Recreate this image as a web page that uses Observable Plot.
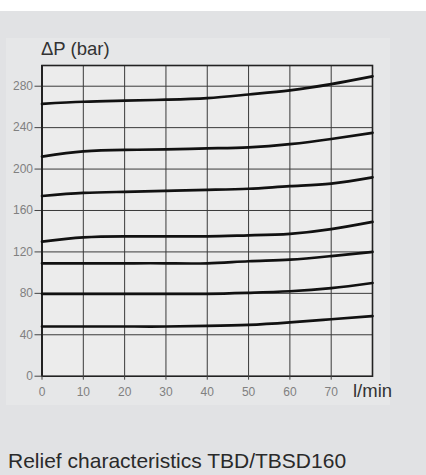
<!DOCTYPE html>
<html>
<head>
<meta charset="utf-8">
<script src="https://cdn.jsdelivr.net/npm/d3@7"></script>
<script src="https://cdn.jsdelivr.net/npm/@observablehq/plot@0.6"></script>
<style>
  html, body { margin: 0; padding: 0; }
  body { width: 426px; height: 475px; background: #e1e2e4; position: relative; overflow: hidden; font-family: "Liberation Sans", Arial, sans-serif; }
  #white { position: absolute; left: 0; top: 0; width: 426px; height: 11px; background: #ffffff; }
  #panel { position: absolute; left: 6px; top: 38px; width: 384px; height: 367px; background: #e6e7e8; }
  #chart { position: absolute; left: 0; top: 0; }
  #ylabel { position: absolute; left: 41px; top: 38px; font-size: 18.5px; color: #333; white-space: nowrap; }
  #xlabel { position: absolute; left: 353px; top: 379.5px; font-size: 18.5px; color: #333; white-space: nowrap; }
  #caption { position: absolute; left: 8px; top: 448.5px; font-size: 21px; color: #2a2a2a; white-space: nowrap; }
</style>
</head>
<body>
<div id="white"></div>
<div id="panel"></div>
<div id="chart"></div>
<div id="ylabel">ΔP (bar)</div>
<div id="xlabel">l/min</div>
<div id="caption">Relief characteristics TBD/TBSD160</div>
<script>
const flow = [0, 10, 20, 30, 40, 50, 60, 70, 80];
const curve1 = [263, 265, 266, 267, 268.5, 272, 276, 282, 289.5];
const curve2 = [212, 217, 218.5, 219, 220, 221, 224, 229, 235];
const curve3 = [174, 177, 178, 179, 180, 181, 183.5, 186, 192];
const curve4 = [130, 134, 135, 135, 135, 136, 137.5, 142, 149];
const curve5 = [109, 109, 109, 109, 109, 111, 112.5, 116, 120];
const curve6 = [79.5, 79.5, 79.5, 79.5, 79.5, 80.5, 82, 85, 90];
const curve7 = [48, 48, 48, 48, 48.5, 49.5, 52, 55, 58];
const xTicks = [0, 10, 20, 30, 40, 50, 60, 70];
const yTicks = [0, 40, 80, 120, 160, 200, 240, 280];
const xGrid = [10, 20, 30, 40, 50, 60, 70];
const yGrid = [40, 80, 120, 160, 200, 240, 280];

const series = [curve1, curve2, curve3, curve4, curve5, curve6, curve7];
const rows = [];
series.forEach((s, i) => s.forEach((v, j) => rows.push({id: i, q: flow[j], p: v})));

const chart = Plot.plot({
  width: 426,
  height: 410,
  marginLeft: 41.5,
  marginRight: 54,
  marginTop: 65,
  marginBottom: 34.3,
  style: {background: "transparent", fontFamily: "Liberation Sans, Arial, sans-serif"},
  x: {domain: [0, 80]},
  y: {domain: [0, 300]},
  marks: [
    Plot.frame({fill: "#ececec", stroke: null}),
    Plot.gridX(xGrid, {stroke: "#3a3a3a", strokeOpacity: 1, strokeWidth: 1}),
    Plot.gridY(yGrid, {stroke: "#3a3a3a", strokeOpacity: 1, strokeWidth: 1}),
    Plot.frame({stroke: "#222", strokeWidth: 1.6}),
    Plot.axisX(xTicks, {tickSize: 4, tickPadding: 7, fontSize: 12, fill: "#808080", stroke: "#444", label: null}),
    Plot.axisY(yTicks, {tickSize: 7, tickPadding: 2, fontSize: 12, fill: "#808080", stroke: "#444", label: null}),
    Plot.ruleX([0], {stroke: "#222", strokeWidth: 2}),
    Plot.line(rows, {x: "q", y: "p", z: "id", stroke: "#111", strokeWidth: 2.7, curve: "natural"})
  ]
});
document.getElementById("chart").appendChild(chart);
</script>
</body>
</html>
